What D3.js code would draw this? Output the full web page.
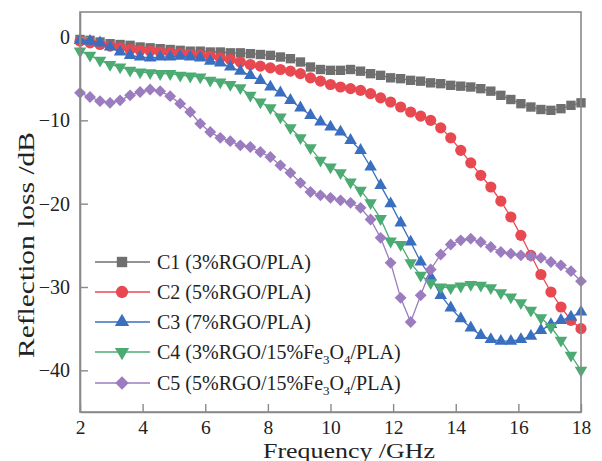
<!DOCTYPE html>
<html>
<head>
<meta charset="utf-8">
<script src="https://cdn.jsdelivr.net/npm/d3@7"></script>
<style>
  html, body { margin: 0; padding: 0; background: #fff; }
  svg { display: block; }
  text { font-family: "Liberation Serif", "Times New Roman", serif; fill: #222; }
</style>
</head>
<body>
<svg id="chart" width="602" height="461"></svg>
<script>
// Frequency sweep points (GHz)
const freq = [2.00, 2.32, 2.64, 2.96, 3.28, 3.60, 3.92, 4.24, 4.56, 4.88,
  5.20, 5.52, 5.84, 6.16, 6.48, 6.80, 7.12, 7.44, 7.76, 8.08,
  8.40, 8.72, 9.04, 9.36, 9.68, 10.00, 10.32, 10.64, 10.96, 11.28,
  11.60, 11.92, 12.24, 12.56, 12.88, 13.20, 13.52, 13.84, 14.16, 14.48,
  14.80, 15.12, 15.44, 15.76, 16.08, 16.40, 16.72, 17.04, 17.36, 17.68, 18.00];

// Reflection loss (dB) for each sample
const c1 = [-0.3, -0.4, -0.6, -0.8, -0.9, -1.0, -1.2, -1.3, -1.4, -1.5,
  -1.6, -1.7, -1.7, -1.8, -1.8, -1.9, -1.9, -2.0, -2.1, -2.2,
  -2.4, -2.6, -3.0, -3.6, -3.9, -4.0, -4.0, -3.9, -4.1, -4.4,
  -4.6, -4.9, -5.0, -5.2, -5.3, -5.5, -5.6, -5.8, -5.9, -6.0,
  -6.2, -6.5, -7.0, -7.5, -8.0, -8.4, -8.7, -8.8, -8.6, -8.2, -7.9];

const c2 = [-0.5, -0.7, -0.9, -1.1, -1.3, -1.5, -1.6, -1.7, -1.8, -1.9,
  -2.0, -2.1, -2.2, -2.3, -2.5, -2.7, -3.0, -3.3, -3.5, -3.7,
  -3.9, -4.1, -4.4, -4.9, -5.3, -5.7, -6.0, -6.2, -6.4, -6.8,
  -7.3, -7.8, -8.4, -9.0, -9.5, -10.0, -10.9, -12.1, -13.6, -15.1,
  -16.6, -18.0, -19.7, -21.6, -23.8, -26.2, -28.5, -30.6, -32.4, -34.0, -35.0];

const c3 = [-0.4, -0.5, -0.7, -1.2, -1.8, -2.2, -2.4, -2.5, -2.4, -2.4,
  -2.3, -2.4, -2.5, -2.9, -3.1, -3.6, -4.1, -4.6, -5.2, -6.0,
  -6.7, -7.6, -8.5, -9.4, -10.2, -10.8, -11.4, -12.4, -13.6, -15.6,
  -17.8, -20.0, -22.3, -24.6, -27.0, -28.8, -31.0, -32.5, -33.8, -34.9,
  -35.8, -36.3, -36.5, -36.5, -36.3, -35.9, -35.2, -34.5, -34.0, -33.6, -33.0];

const c4 = [-1.7, -2.2, -2.8, -3.3, -3.6, -4.0, -4.2, -4.3, -4.4, -4.4,
  -4.6, -4.7, -4.8, -5.2, -5.4, -5.7, -6.1, -7.0, -7.8, -8.5,
  -9.6, -10.9, -12.1, -13.3, -14.8, -15.6, -16.3, -17.4, -18.4, -19.9,
  -21.8, -24.5, -24.9, -27.1, -28.6, -29.5, -30.0, -30.1, -29.9, -29.7,
  -29.8, -30.1, -30.7, -31.2, -31.9, -32.8, -33.7, -34.8, -36.4, -38.2, -40.0];

const c5 = [-6.7, -7.2, -7.7, -7.9, -7.6, -7.0, -6.6, -6.3, -6.5, -7.1,
  -8.0, -9.0, -10.4, -11.4, -12.1, -12.5, -13.0, -13.2, -13.8, -14.4,
  -15.4, -16.3, -17.5, -18.6, -19.0, -19.3, -19.6, -19.9, -20.5, -21.9,
  -24.1, -27.1, -31.3, -34.2, -31.0, -27.9, -26.1, -24.9, -24.4, -24.2,
  -24.6, -25.2, -25.8, -26.0, -26.2, -26.3, -26.5, -27.0, -27.4, -28.1, -29.3];

const seriesNames = ["C1", "C2", "C3", "C4", "C5"];
const seriesLabels = [
  ["C1 (3%RGO/PLA)"],
  ["C2 (5%RGO/PLA)"],
  ["C3 (7%RGO/PLA)"],
  ["C4 (3%RGO/15%Fe", {sub: "3"}, "O", {sub: "4"}, "/PLA)"],
  ["C5 (5%RGO/15%Fe", {sub: "3"}, "O", {sub: "4"}, "/PLA)"]
];
const seriesValues = [c1, c2, c3, c4, c5];
const colors = ["#6f6f6f", "#e84950", "#3a6fc0", "#4cab72", "#9b7cbf"];

const xTicks = [2, 4, 6, 8, 10, 12, 14, 16, 18];
const yTicks = [0, -10, -20, -30, -40];

const svg = d3.select("#chart");
const margin = {left: 80, right: 21, top: 12, bottom: 49};
const W = 602, H = 461;

const x = d3.scaleLinear().domain([2, 18]).range([margin.left, W - margin.right]);
const y = d3.scaleLinear().domain([-45, 3]).range([H - margin.bottom, margin.top]);

const axisColor = "#8a8a8a";

// Marker shapes per series
const markerDefs = [
  {type: d3.symbolSquare, size: 88, rotate: 0},
  {type: d3.symbolCircle, size: 98, rotate: 0},
  {type: d3.symbolTriangle, size: 68, rotate: 0},
  {type: d3.symbolTriangle, size: 68, rotate: 180},
  {type: d3.symbolSquare, size: 70, rotate: 45}
];

// Series lines and markers
const line = d3.line().x(d => x(d[0])).y(d => y(d[1]));
seriesValues.forEach((vals, k) => {
  const pts = freq.map((f, i) => [f, vals[i]]);
  const g = svg.append("g").attr("class", "series " + seriesNames[k]);
  g.append("path")
    .datum(pts)
    .attr("d", line)
    .attr("fill", "none")
    .attr("stroke", colors[k])
    .attr("stroke-width", 1.3);
  const m = markerDefs[k];
  g.selectAll("path.mk")
    .data(pts)
    .join("path")
    .attr("class", "mk")
    .attr("d", d3.symbol().type(m.type).size(m.size))
    .attr("transform", d => `translate(${x(d[0])},${y(d[1])}) rotate(${m.rotate})`)
    .attr("fill", colors[k]);
});

// Frame
svg.append("rect")
  .attr("x", x(2)).attr("y", y(3))
  .attr("width", x(18) - x(2)).attr("height", y(-45) - y(3))
  .attr("fill", "none")
  .attr("stroke", axisColor)
  .attr("stroke-width", 1.6);

// Bottom axis (ticks inward)
const xAxis = svg.append("g")
  .attr("transform", `translate(0,${y(-45)})`)
  .call(d3.axisBottom(x).tickValues(xTicks).tickSizeInner(-8).tickSizeOuter(0).tickPadding(8)
    .tickFormat(d3.format("d")));
xAxis.select(".domain").attr("stroke", axisColor).attr("stroke-width", 1.6);
xAxis.selectAll(".tick line").attr("stroke", axisColor).attr("stroke-width", 1.4);
xAxis.selectAll(".tick text")
  .attr("font-size", 19.5)
  .attr("font-family", "Liberation Serif, serif")
  .attr("fill", "#222");

// Left axis (ticks inward)
const yAxis = svg.append("g")
  .attr("transform", `translate(${x(2)},0)`)
  .call(d3.axisLeft(y).tickValues(yTicks).tickSizeInner(-8).tickSizeOuter(0).tickPadding(10)
    .tickFormat(d => d === 0 ? "0" : "\u2212" + Math.abs(d)));
yAxis.select(".domain").attr("stroke", axisColor).attr("stroke-width", 1.6);
yAxis.selectAll(".tick line").attr("stroke", axisColor).attr("stroke-width", 1.4);
yAxis.selectAll(".tick text")
  .attr("font-size", 20)
  .attr("font-family", "Liberation Serif, serif")
  .attr("fill", "#222");

// Axis titles
svg.append("text")
  .attr("x", 349)
  .attr("y", 457.5)
  .attr("text-anchor", "middle")
  .attr("font-size", 20)
  .attr("textLength", 172)
  .attr("lengthAdjust", "spacingAndGlyphs")
  .text("Frequency /GHz");

svg.append("text")
  .attr("transform", `translate(34,245) rotate(-90)`)
  .attr("text-anchor", "middle")
  .attr("font-size", 23)
  .attr("textLength", 226)
  .attr("lengthAdjust", "spacingAndGlyphs")
  .text("Reflection loss /dB");

// Legend
const legendY = [262, 292, 322, 352, 383];
const legend = svg.append("g").attr("class", "legend");
seriesLabels.forEach((parts, k) => {
  const ly = legendY[k];
  legend.append("line")
    .attr("x1", 95).attr("x2", 150).attr("y1", ly).attr("y2", ly)
    .attr("stroke", colors[k]).attr("stroke-width", 1.3);
  const m = markerDefs[k];
  legend.append("path")
    .attr("d", d3.symbol().type(m.type).size(m.size + 20))
    .attr("transform", `translate(122,${ly}) rotate(${m.rotate})`)
    .attr("fill", colors[k]);
  const t = legend.append("text")
    .attr("x", 157).attr("y", ly + 7)
    .attr("font-size", 20);
  parts.forEach(p => {
    if (typeof p === "string") {
      t.append("tspan").text(p);
    } else {
      t.append("tspan").attr("baseline-shift", "-35%").attr("font-size", 13).text(p.sub);
    }
  });
});
</script>
</body>
</html>
